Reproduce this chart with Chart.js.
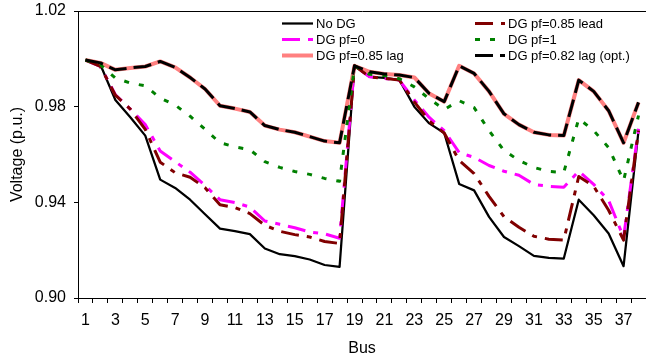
<!DOCTYPE html>
<html>
<head>
<meta charset="utf-8">
<script src="https://cdn.jsdelivr.net/npm/chart.js@4.4.1/dist/chart.umd.min.js"></script>
<style>
html,body{margin:0;padding:0;background:#fff;}
#wrap{width:646px;height:358px;position:relative;}
</style>
</head>
<body>
<div id="wrap"><canvas id="c" width="646" height="358"></canvas></div>
<script>
// ---- data ----
const buses = ['1','2','3','4','5','6','7','8','9','10','11','12','13','14','15','16','17','18','19','20',
               '21','22','23','24','25','26','27','28','29','30','31','32','33','34','35','36','37','38'];
const xTickLabels = ['1','3','5','7','9','11','13','15','17','19','21','23','25','27','29','31','33','35','37'];
const yTicks = [0.90, 0.94, 0.98, 1.02];

const noDG = [0.9995,0.9975,0.9828,0.9756,0.9679,0.9495,0.9460,0.9411,0.9350,0.9290,
              0.9280,0.9267,0.9207,0.9183,0.9175,0.9161,0.9138,0.9130,0.9971,0.9925,
              0.9920,0.9912,0.9800,0.9730,0.9690,0.9477,0.9450,0.9339,0.9255,0.9217,
              0.9176,0.9168,0.9165,0.9411,0.9346,0.9270,0.9133,0.9700];
const dgPf0 = [0.9995,0.9968,0.9850,0.9790,0.9725,0.9615,0.9570,0.9526,0.9470,0.9411,
               0.9399,0.9380,0.9322,0.9308,0.9294,0.9276,0.9268,0.9250,0.9971,0.9925,
               0.9918,0.9911,0.9828,0.9755,0.9700,0.9608,0.9588,0.9554,0.9530,0.9513,
               0.9475,0.9467,0.9463,0.9530,0.9475,0.9408,0.9254,0.9708];
const dgPf085Lag = [0.9995,0.9983,0.9954,0.9962,0.9968,0.9989,0.9964,0.9922,0.9874,0.9804,
                    0.9792,0.9778,0.9721,0.9704,0.9693,0.9675,0.9656,0.9649,0.9971,0.9946,
                    0.9937,0.9932,0.9922,0.9855,0.9821,0.9971,0.9939,0.9864,0.9770,0.9725,
                    0.9693,0.9682,0.9679,0.9911,0.9864,0.9783,0.9649,0.9818];
const dgPf085Lead = [0.9995,0.9968,0.9848,0.9790,0.9705,0.9568,0.9524,0.9505,0.9461,0.9390,
                     0.9378,0.9353,0.9304,0.9279,0.9265,0.9255,0.9236,0.9228,0.9971,0.9925,
                     0.9918,0.9911,0.9820,0.9740,0.9690,0.9575,0.9520,0.9425,0.9340,0.9296,
                     0.9258,0.9246,0.9242,0.9508,0.9467,0.9367,0.9242,0.9700];
const dgPf1 = [0.9995,0.9975,0.9920,0.9899,0.9887,0.9836,0.9807,0.9760,0.9705,0.9649,
               0.9632,0.9620,0.9570,0.9546,0.9529,0.9517,0.9500,0.9488,0.9971,0.9935,
               0.9930,0.9917,0.9883,0.9833,0.9788,0.9825,0.9796,0.9700,0.9617,0.9575,
               0.9546,0.9529,0.9525,0.9750,0.9700,0.9629,0.9490,0.9763];
const dgPf082Opt = [0.9995,0.9983,0.9954,0.9962,0.9968,0.9989,0.9964,0.9922,0.9874,0.9804,
                    0.9792,0.9778,0.9721,0.9704,0.9693,0.9675,0.9656,0.9649,0.9971,0.9946,
                    0.9937,0.9932,0.9922,0.9855,0.9821,0.9971,0.9939,0.9864,0.9770,0.9725,
                    0.9693,0.9682,0.9679,0.9911,0.9864,0.9783,0.9649,0.9818];
const seriesNames = ['No DG','DG pf=0','DG pf=0.85 lag','DG pf=0.85 lead','DG pf=1','DG pf=0.82 lag (opt.)'];

const FONT = "'Liberation Sans', Arial, sans-serif";

const datasets = [
  {label: seriesNames[0], data: noDG, borderColor:'#000000', borderWidth:2.25, order:6},
  {label: seriesNames[1], data: dgPf0, borderColor:'#FF00FF', borderWidth:3, borderDash:[18,8,5,8], order:5},
  {label: seriesNames[2], data: dgPf085Lag, borderColor:'#FF8080', borderWidth:4, order:4},
  {label: seriesNames[3], data: dgPf085Lead, borderColor:'#800000', borderWidth:3, borderDash:[18,8,5,8], order:3},
  {label: seriesNames[4], data: dgPf1, borderColor:'#008000', borderWidth:3, borderDash:[5,10], order:2},
  {label: seriesNames[5], data: dgPf082Opt, borderColor:'#000000', borderWidth:3, borderDash:[18,7], order:1}
].map(d => Object.assign({fill:false, pointRadius:0, tension:0, borderJoinStyle:'round'}, d));

// custom two-column legend inside the plot area
const legendPlugin = {
  id: 'twoColLegend',
  afterDraw(chart) {
    const ctx = chart.ctx;
    const cols = [[0,1,2],[3,4,5]];
    const colX = [282, 475];
    const rowY = [23.5, 39.5, 55.5];
    const sampleLen = [31, 30];
    const textGap = 3;
    ctx.save();
    ctx.font = "13px " + FONT;
    ctx.textBaseline = 'middle';
    ctx.textAlign = 'left';
    cols.forEach((col, ci) => {
      col.forEach((di, ri) => {
        const ds = chart.data.datasets[di];
        const y = rowY[ri];
        const x0 = colX[ci];
        ctx.beginPath();
        ctx.setLineDash(ds.borderDash || []);
        ctx.lineDashOffset = 0;
        ctx.strokeStyle = ds.borderColor;
        ctx.lineWidth = ds.borderWidth;
        ctx.lineCap = 'butt';
        ctx.moveTo(x0, y);
        ctx.lineTo(x0 + sampleLen[ci], y);
        ctx.stroke();
        ctx.setLineDash([]);
        ctx.fillStyle = '#000';
        ctx.fillText(ds.label, x0 + sampleLen[ci] + textGap, y + 0.5);
      });
    });
    ctx.restore();
  }
};

const bgPlugin = {
  id: 'bg',
  beforeDraw(chart) {
    const ctx = chart.ctx;
    ctx.save();
    ctx.fillStyle = '#fff';
    ctx.fillRect(0, 0, chart.width, chart.height);
    ctx.restore();
  }
};

new Chart(document.getElementById('c'), {
  type: 'line',
  data: { labels: buses, datasets: datasets },
  options: {
    responsive: false,
    animation: false,
    devicePixelRatio: 1,
    layout: { padding: { top: 11, right: -2.5, bottom: 0, left: 0 } },
    plugins: { legend: { display: false }, tooltip: { enabled: false } },
    scales: {
      x: {
        type: 'category',
        offset: true,
        grid: { display: true, drawOnChartArea: false, drawTicks: true, tickLength: 5, offset: true, color: '#000', lineWidth: 1 },
        border: { display: true, color: '#000', width: 1 },
        ticks: {
          autoSkip: false, maxRotation: 0, minRotation: 0, padding: 8, color: '#000',
          font: { family: FONT, size: 16 },
          callback: function(v) { const l = this.getLabelForValue(v); return xTickLabels.includes(l) ? l : ''; }
        },
        title: { display: true, text: 'Bus', color: '#000', font: { family: FONT, size: 16 }, padding: { top: 0, bottom: 0 } },
        afterFit(s) { s.height = 60; s.paddingLeft = 0; s.paddingRight = 0; }
      },
      y: {
        min: 0.90, max: 1.02,
        afterBuildTicks(s) { s.ticks = yTicks.map(v => ({ value: v })); },
        grid: {
          drawOnChartArea: true, drawTicks: true, tickLength: 4, lineWidth: 1, tickColor: '#000',
          color: c => (c.tick && Math.abs(c.tick.value - 1.02) < 1e-9) ? '#000' : 'rgba(0,0,0,0)'
        },
        border: { display: true, color: '#000', width: 1 },
        ticks: { padding: 8, color: '#000', font: { family: FONT, size: 16 }, callback: v => Number(v).toFixed(2) },
        title: { display: true, text: 'Voltage (p.u.)', color: '#000', font: { family: FONT, size: 16 }, padding: { top: 7.5, bottom: 0 } },
        afterFit(s) { s.width = 78; s.paddingTop = 0; s.paddingBottom = 0; }
      }
    }
  },
  plugins: [bgPlugin, legendPlugin]
});
</script>
</body>
</html>
